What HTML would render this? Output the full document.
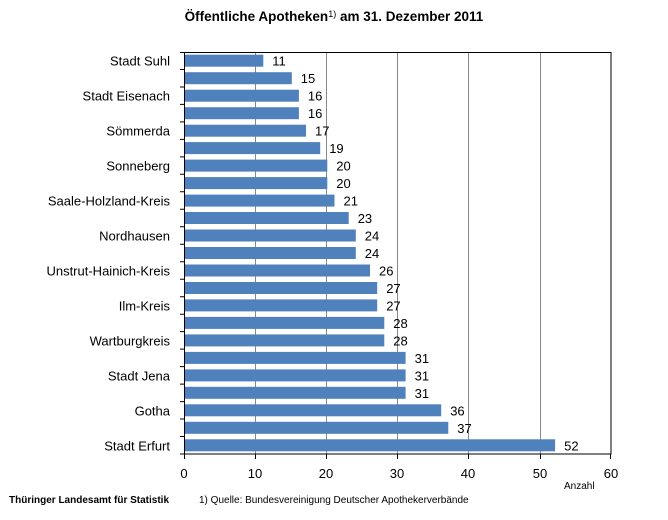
<!DOCTYPE html>
<html><head><meta charset="utf-8"><style>
body{margin:0;background:#fff}
svg text{font-family:"Liberation Sans",sans-serif}
</style></head><body>
<svg width="668" height="515" xmlns="http://www.w3.org/2000/svg">
<text x="334" y="21" text-anchor="middle" font-size="13.5" font-weight="bold">Öffentliche Apotheken<tspan font-size="9" font-weight="normal" dy="-4">1)</tspan><tspan dy="4"> am 31. Dezember 2011</tspan></text>
<g stroke="#888" stroke-width="1">
<line x1="255.5" y1="52" x2="255.5" y2="454"/>
<line x1="326.5" y1="52" x2="326.5" y2="454"/>
<line x1="397.5" y1="52" x2="397.5" y2="454"/>
<line x1="468.5" y1="52" x2="468.5" y2="454"/>
<line x1="540.5" y1="52" x2="540.5" y2="454"/>
</g>
<rect x="184.5" y="52.5" width="426.5" height="401.5" fill="none" stroke="#000" stroke-width="1"/>
<g fill="#4f81bd">
<rect x="185" y="54.7" width="78.3" height="12"/>
<rect x="185" y="72.2" width="106.8" height="12"/>
<rect x="185" y="89.7" width="113.9" height="12"/>
<rect x="185" y="107.2" width="113.9" height="12"/>
<rect x="185" y="124.7" width="121.0" height="12"/>
<rect x="185" y="142.1" width="135.2" height="12"/>
<rect x="185" y="159.6" width="142.3" height="12"/>
<rect x="185" y="177.1" width="142.3" height="12"/>
<rect x="185" y="194.6" width="149.5" height="12"/>
<rect x="185" y="212.0" width="163.7" height="12"/>
<rect x="185" y="229.5" width="170.8" height="12"/>
<rect x="185" y="247.0" width="170.8" height="12"/>
<rect x="185" y="264.5" width="185.0" height="12"/>
<rect x="185" y="282.0" width="192.2" height="12"/>
<rect x="185" y="299.4" width="192.2" height="12"/>
<rect x="185" y="316.9" width="199.3" height="12"/>
<rect x="185" y="334.4" width="199.3" height="12"/>
<rect x="185" y="351.9" width="220.6" height="12"/>
<rect x="185" y="369.4" width="220.6" height="12"/>
<rect x="185" y="386.8" width="220.6" height="12"/>
<rect x="185" y="404.3" width="256.2" height="12"/>
<rect x="185" y="421.8" width="263.3" height="12"/>
<rect x="185" y="439.3" width="370.1" height="12"/>
</g>
<g font-size="13">
<text x="272.3" y="65.7">11</text>
<text x="300.8" y="83.2">15</text>
<text x="307.9" y="100.7">16</text>
<text x="307.9" y="118.2">16</text>
<text x="315.0" y="135.7">17</text>
<text x="329.2" y="153.1">19</text>
<text x="336.3" y="170.6">20</text>
<text x="336.3" y="188.1">20</text>
<text x="343.5" y="205.6">21</text>
<text x="357.7" y="223.0">23</text>
<text x="364.8" y="240.5">24</text>
<text x="364.8" y="258.0">24</text>
<text x="379.0" y="275.5">26</text>
<text x="386.2" y="293.0">27</text>
<text x="386.2" y="310.4">27</text>
<text x="393.3" y="327.9">28</text>
<text x="393.3" y="345.4">28</text>
<text x="414.6" y="362.9">31</text>
<text x="414.6" y="380.4">31</text>
<text x="414.6" y="397.8">31</text>
<text x="450.2" y="415.3">36</text>
<text x="457.3" y="432.8">37</text>
<text x="564.1" y="450.3">52</text>
</g>
<g font-size="13" text-anchor="end">
<text x="170" y="65.7">Stadt Suhl</text>
<text x="170" y="100.7">Stadt Eisenach</text>
<text x="170" y="135.7">Sömmerda</text>
<text x="170" y="170.6">Sonneberg</text>
<text x="170" y="205.6">Saale-Holzland-Kreis</text>
<text x="170" y="240.5">Nordhausen</text>
<text x="170" y="275.5">Unstrut-Hainich-Kreis</text>
<text x="170" y="310.4">Ilm-Kreis</text>
<text x="170" y="345.4">Wartburgkreis</text>
<text x="170" y="380.4">Stadt Jena</text>
<text x="170" y="415.3">Gotha</text>
<text x="170" y="450.3">Stadt Erfurt</text>
</g>
<g stroke="#000" stroke-width="1">
<path d="M180 52.5H184M180 69.5H184M180 87H184M180 104.4H184M180 121.9H184M180 139.4H184M180 156.9H184M180 174.3H184M180 191.8H184M180 209.3H184M180 226.8H184M180 244.3H184M180 261.7H184M180 279.2H184M180 296.7H184M180 314.2H184M180 331.6H184M180 349.1H184M180 366.6H184M180 384.1H184M180 401.6H184M180 419H184M180 436.5H184M180 454H184"/>
<path d="M184.5 454V459M255.5 454V459M326.5 454V459M397.5 454V459M468.5 454V459M540.5 454V459M610.5 454V459"/>
</g>
<g font-size="13" text-anchor="middle">
<text x="184" y="478">0</text><text x="255" y="478">10</text><text x="326" y="478">20</text><text x="397" y="478">30</text><text x="468" y="478">40</text><text x="540" y="478">50</text><text x="611" y="478">60</text>
</g>
<text x="564" y="489" font-size="10">Anzahl</text>
<text x="9" y="503" font-size="10" font-weight="bold">Thüringer Landesamt für Statistik</text>
<text x="199" y="503" font-size="10">1) Quelle: Bundesvereinigung Deutscher Apothekerverbände</text>
</svg>
</body></html>
